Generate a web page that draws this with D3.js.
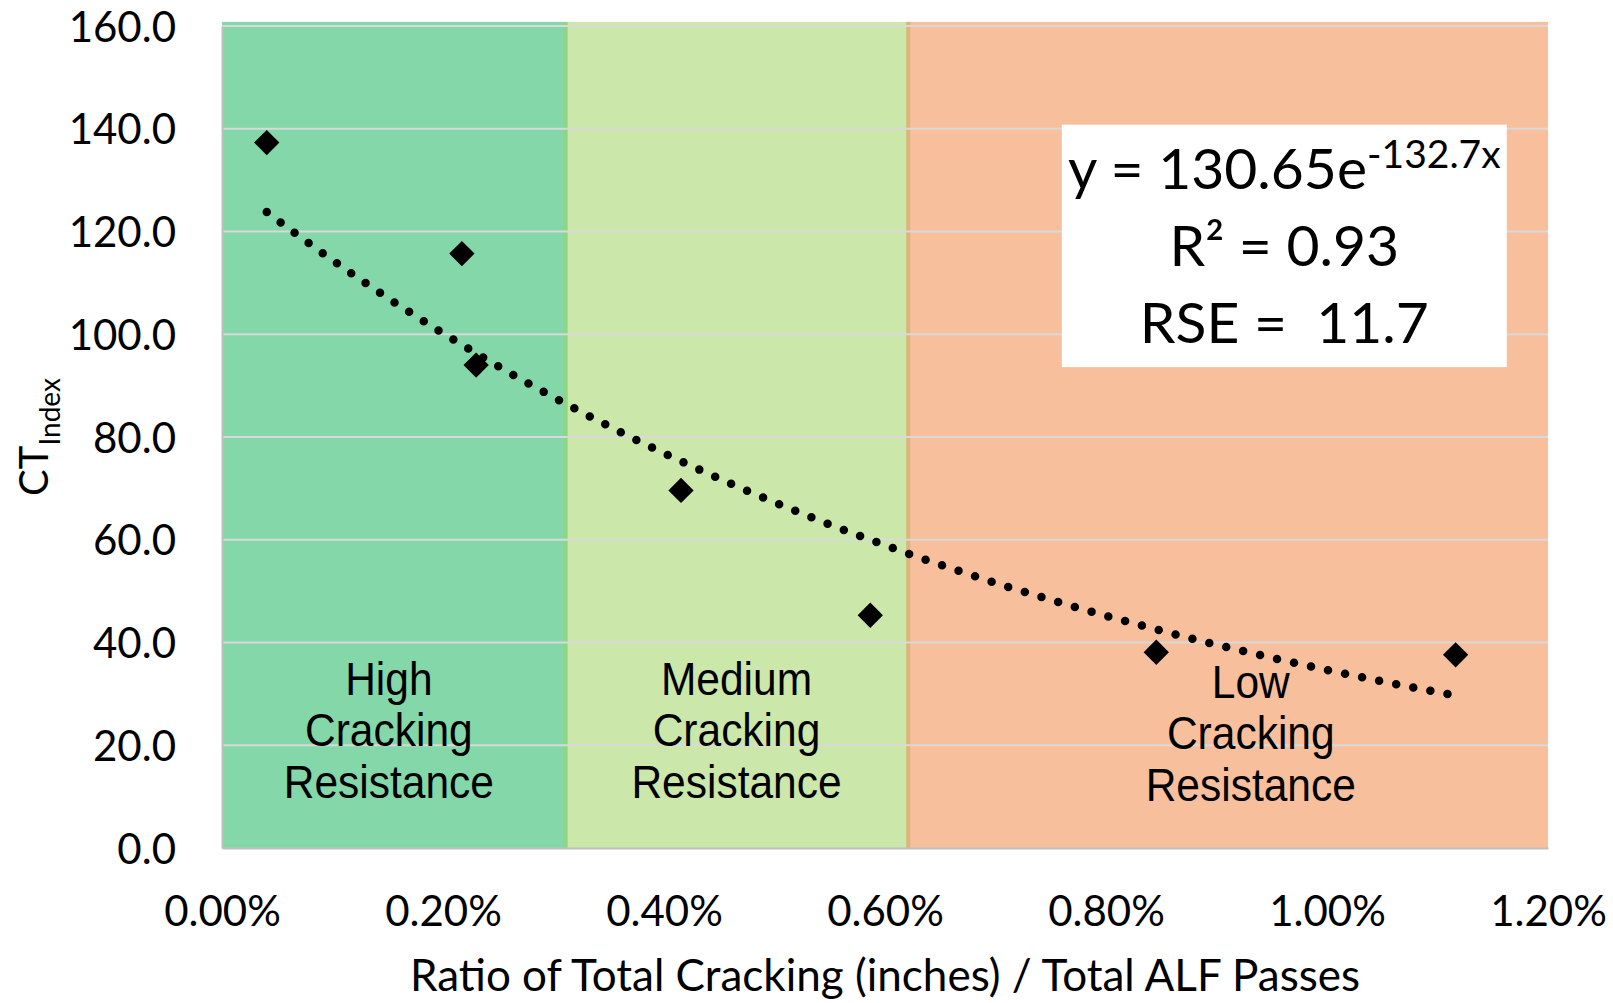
<!DOCTYPE html>
<html>
<head>
<meta charset="utf-8">
<script src="https://cdn.jsdelivr.net/npm/d3@7"></script>
<style>
  body { margin: 0; background: #fff; }
  text { fill: #000; }
</style>
</head>
<body>
<div class="chart"></div>
<script>
// points (x = ratio in %, y = CT index)
const ratioPct = [0.0405, 0.2171, 0.2300, 0.4154, 0.5867, 0.8455, 1.1164];
const ctIndex = [137.3, 115.7, 94.0, 69.6, 45.3, 38.1, 37.6];

// excel exponential trendline, as printed in the box
const trendA = 130.65;
const trendB = -132.7;
const fitLines = ["R² = 0.93", "RSE =  11.7"];

const yTicks = [0, 20, 40, 60, 80, 100, 120, 140, 160];
const xTicks = [0, 0.2, 0.4, 0.6, 0.8, 1.0, 1.2];

// resistance bands
const bandEdges = [0, 0.311, 0.621, 1.2];
const bandTop = 160.8;
const bandColors = ["#84d7a8", "#cbe8aa", "#f7bf9c"];
const edgeColors = ["#8fd585", "#deb47c"];
const bandNames = [
  ["High", "Cracking", "Resistance"],
  ["Medium", "Cracking", "Resistance"],
  ["Low", "Cracking", "Resistance"]
];
const bandLabelX = [0.151, 0.4656, 0.931];
const bandLabelY = [29.8, 29.8, 29.2];

const width = 1613, height = 1003;
const margin = {top: 26, right: 65, bottom: 155, left: 222};

const svg = d3.select(".chart").append("svg")
    .attr("width", width)
    .attr("height", height);

const x = d3.scaleLinear().domain([0, 1.2]).range([margin.left, width - margin.right]);
const y = d3.scaleLinear().domain([0, 160]).range([height - margin.bottom, margin.top]);

// bands
for (let i = 0; i < bandColors.length; i++) {
    svg.append("rect")
        .attr("x", x(bandEdges[i]))
        .attr("y", y(bandTop))
        .attr("width", x(bandEdges[i + 1]) - x(bandEdges[i]))
        .attr("height", y(0) - y(bandTop))
        .style("fill", bandColors[i]);
}
for (let i = 1; i < bandEdges.length - 1; i++) {
    svg.append("line")
        .attr("x1", x(bandEdges[i])).attr("x2", x(bandEdges[i]))
        .attr("y1", y(bandTop)).attr("y2", y(0))
        .style("stroke", edgeColors[i - 1])
        .style("stroke-width", 4);
}

// gridlines
svg.append("g")
    .selectAll("line")
    .data(yTicks.filter(d => d > 0))
    .enter().append("line")
    .attr("x1", x(0)).attr("x2", x(1.2))
    .attr("y1", d => y(d)).attr("y2", d => y(d))
    .style("stroke", "#d9d9d9")
    .style("stroke-width", 2);

// axes (no ticks, just the lines and labels)
const xAxis = svg.append("g")
    .attr("transform", `translate(0,${y(0)})`)
    .call(d3.axisBottom(x).tickValues(xTicks).tickSize(0).tickPadding(0)
        .tickFormat(d => d3.format(".2f")(d) + "%"));
xAxis.select(".domain").style("stroke", "#bfbfbf").style("stroke-width", 2);
xAxis.selectAll("text")
    .attr("y", 78)
    .attr("dy", null)
    .style("font-family", "Lato, 'Open Sans', sans-serif")
    .style("font-size", "42px");

const yAxis = svg.append("g")
    .attr("transform", `translate(${x(0)},0)`)
    .call(d3.axisLeft(y).tickValues(yTicks).tickSize(0).tickPadding(0)
        .tickFormat(d3.format(".1f")));
yAxis.select(".domain").style("stroke", "#bfbfbf").style("stroke-width", 2);
yAxis.selectAll("text")
    .attr("x", -46)
    .attr("dy", "0.36em")
    .style("font-family", "Lato, 'Open Sans', sans-serif")
    .style("font-size", "42px");

// band labels
bandNames.forEach((lines, i) => {
    lines.forEach((t, j) => {
        svg.append("text")
            .attr("transform", `translate(${x(bandLabelX[i])},${y(bandLabelY[i]) + j * 51.5}) scale(1,1.08)`)
            .attr("text-anchor", "middle")
            .style("font-family", "'Liberation Sans', Arial, sans-serif")
            .style("font-size", "42.5px")
            .text(t);
    });
});

// trendline from the printed equation, over the range of the data
const xs = d3.range(0, 101).map(k => d3.min(ratioPct) + k / 100 * (d3.max(ratioPct) - d3.min(ratioPct)));
const trend = xs.map(v => [v, trendA * Math.exp(trendB * v / 100)]);
svg.append("path")
    .datum(trend)
    .attr("d", d3.line().x(d => x(d[0])).y(d => y(d[1])))
    .style("fill", "none")
    .style("stroke", "#000")
    .style("stroke-width", 8.5)
    .style("stroke-linecap", "round")
    .style("stroke-dasharray", "0 17.4");

// points
svg.append("g")
    .selectAll("path")
    .data(ratioPct)
    .enter().append("path")
    .attr("d", d3.symbol(d3.symbolSquare, 320))
    .attr("transform", (d, i) => `translate(${x(d)},${y(ctIndex[i])}) rotate(45)`)
    .style("fill", "#000");

// equation box
const box = svg.append("g");
box.append("rect")
    .attr("x", x(0.7600)).attr("y", y(140.8))
    .attr("width", x(1.1627) - x(0.7600))
    .attr("height", y(93.6) - y(140.8))
    .style("fill", "#fff");
const boxCx = x((0.7600 + 1.1627) / 2);
const eq = box.append("text")
    .attr("x", boxCx).attr("y", y(128.2))
    .attr("text-anchor", "middle")
    .style("font-family", "Lato, 'Open Sans', sans-serif")
    .style("font-size", "57px");
eq.append("tspan").text("y = " + trendA.toFixed(2) + "e");
eq.append("tspan").attr("dy", -21).style("font-size", "39px").text(trendB + "x");
fitLines.forEach((t, j) => {
    box.append("text")
        .attr("x", boxCx).attr("y", y(128.2) + 77 * (j + 1))
        .attr("text-anchor", "middle")
        .style("white-space", "pre")
        .style("font-family", "Lato, 'Open Sans', sans-serif")
        .style("font-size", "57px")
        .text(t);
});

// axis titles
svg.append("text")
    .attr("x", (x(0) + x(1.2)) / 2).attr("y", 991)
    .attr("text-anchor", "middle")
    .style("font-family", "Lato, 'Open Sans', sans-serif")
    .style("font-size", "44px")
    .text("Ratio of Total Cracking (inches) / Total ALF Passes");

const yTitle = svg.append("text")
    .attr("transform", `translate(48,${(y(0) + y(160)) / 2}) rotate(-90)`)
    .attr("text-anchor", "middle")
    .style("font-family", "Lato, 'Open Sans', sans-serif")
    .style("font-size", "40px");
yTitle.append("tspan").text("CT");
yTitle.append("tspan").attr("dy", 12).style("font-size", "28px").text("Index");
</script>
</body>
</html>
